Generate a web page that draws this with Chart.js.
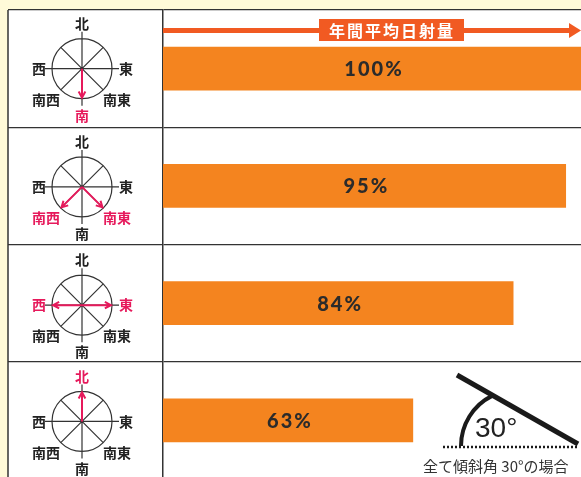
<!DOCTYPE html>
<html>
<head>
<meta charset="utf-8">
<script src="https://cdn.jsdelivr.net/npm/chart.js@4.4.1/dist/chart.umd.min.js"></script>
<style>
  html, body { margin: 0; padding: 0; background: #fffad8; overflow: hidden; }
  #wrap { width: 581px; height: 479px; position: relative; }
</style>
</head>
<body>
<div id="wrap"><canvas id="myChart"></canvas></div>
<script>
// rows: panel orientation, yearly average irradiation relative to south
const categories = ['南', '南東・南西', '東・西', '北'];
const values = [100, 95, 84, 63];
const valueLabels = ['100%', '95%', '84%', '63%'];
const arrowDirs = [['S'], ['SW', 'SE'], ['W', 'E'], ['N']];
const headerText = '年間平均日射量';
const tiltText = '30°';
const tiltNote = '全て傾斜角 30°の場合';

const ORANGE = '#f4841f';
const RED = '#e6195b';
const INK = '#2b2b2b';
const CJK = '"Noto Sans CJK JP", sans-serif';

const dirs = {
  N:  { dx: 0, dy: -1, label: '北', lx: 0, ly: -45 },
  E:  { dx: 1, dy: 0, label: '東', lx: 44, ly: 0 },
  S:  { dx: 0, dy: 1, label: '南', lx: 0, ly: 47 },
  W:  { dx: -1, dy: 0, label: '西', lx: -43, ly: 0 },
  SE: { dx: Math.SQRT1_2, dy: Math.SQRT1_2, label: '南東', lx: 35, ly: 31 },
  SW: { dx: -Math.SQRT1_2, dy: Math.SQRT1_2, label: '南西', lx: -36, ly: 31 }
};

function drawCompass(ctx, cx, cy, active) {
  const r = 30;
  ctx.save();
  ctx.strokeStyle = '#333';
  ctx.lineWidth = 1.2;
  ctx.beginPath();
  ctx.arc(cx, cy, r, 0, Math.PI * 2);
  ctx.moveTo(cx - 37, cy); ctx.lineTo(cx + 37, cy);
  ctx.moveTo(cx, cy - 37); ctx.lineTo(cx, cy + 37);
  const d = r * Math.SQRT1_2;
  ctx.moveTo(cx - d, cy - d); ctx.lineTo(cx + d, cy + d);
  ctx.moveTo(cx + d, cy - d); ctx.lineTo(cx - d, cy + d);
  ctx.stroke();

  // arrows
  ctx.strokeStyle = RED;
  ctx.lineWidth = 2;
  active.forEach(k => {
    const v = dirs[k];
    const ex = cx + v.dx * (r - 1), ey = cy + v.dy * (r - 1);
    ctx.beginPath();
    ctx.moveTo(cx, cy); ctx.lineTo(ex, ey);
    const a = Math.atan2(v.dy, v.dx);
    ctx.moveTo(ex - 7 * Math.cos(a - 0.5), ey - 7 * Math.sin(a - 0.5));
    ctx.lineTo(ex, ey);
    ctx.lineTo(ex - 7 * Math.cos(a + 0.5), ey - 7 * Math.sin(a + 0.5));
    ctx.stroke();
  });

  // direction labels
  ctx.font = 'bold 14px ' + CJK;
  ctx.textAlign = 'center';
  ctx.textBaseline = 'middle';
  Object.keys(dirs).forEach(k => {
    const v = dirs[k];
    ctx.fillStyle = active.includes(k) ? RED : '#222';
    ctx.fillText(v.label, cx + v.lx, cy + v.ly);
  });
  ctx.restore();
}

const tablePlugin = {
  id: 'table',
  beforeDraw(chart) {
    const ctx = chart.ctx;
    ctx.save();
    ctx.fillStyle = '#fff';
    ctx.fillRect(8, 10, chart.width, chart.height);
    ctx.restore();
  },
  afterDatasetsDraw(chart) {
    const ctx = chart.ctx;
    const area = chart.chartArea;
    const y = chart.scales.y;

    // left border of the table
    ctx.save();
    ctx.strokeStyle = '#333';
    ctx.lineWidth = 1.5;
    ctx.beginPath();
    ctx.moveTo(8, area.top); ctx.lineTo(8, chart.height);
    ctx.stroke();
    ctx.restore();

    // compasses
    const shift = [0, 1, 2, 1];
    categories.forEach((c, i) => {
      drawCompass(ctx, 82, y.getPixelForValue(i) + shift[i], arrowDirs[i]);
    });

    // value labels centred on the visible part of each bar
    const meta = chart.getDatasetMeta(0);
    ctx.save();
    ctx.font = '900 20px Lato, sans-serif';
    ctx.letterSpacing = '2px';
    ctx.fillStyle = INK;
    ctx.textAlign = 'center';
    ctx.textBaseline = 'middle';
    meta.data.forEach((bar, i) => {
      const x0 = Math.max(bar.base, area.left);
      const x1 = Math.min(bar.x, area.right);
      ctx.fillText(valueLabels[i], (x0 + x1) / 2 + 2, bar.y + 1);
    });
    ctx.restore();

    // header arrow
    ctx.save();
    ctx.fillStyle = '#f15a22';
    ctx.fillRect(area.left, 28, area.right - area.left - 10, 5);
    ctx.beginPath();
    ctx.moveTo(569, 23); ctx.lineTo(581, 30.5); ctx.lineTo(569, 38);
    ctx.closePath();
    ctx.fill();
    ctx.fillRect(319, 19, 145, 22);
    ctx.fillStyle = '#fff';
    ctx.font = 'bold 16px ' + CJK;
    ctx.letterSpacing = '2px';
    ctx.textAlign = 'center';
    ctx.textBaseline = 'middle';
    ctx.fillText(headerText, 392, 31);
    ctx.restore();

    // tilt angle note
    ctx.save();
    ctx.strokeStyle = '#1a1a1a';
    ctx.lineWidth = 5;
    ctx.lineCap = 'butt';
    ctx.beginPath();
    ctx.moveTo(457, 375); ctx.lineTo(578, 444);
    ctx.stroke();
    ctx.lineWidth = 4;
    ctx.beginPath();
    ctx.arc(517, 446, 56, Math.PI, 4.25, false);
    ctx.stroke();
    ctx.lineWidth = 2.5;
    ctx.setLineDash([2, 2]);
    ctx.beginPath();
    ctx.moveTo(443, 447); ctx.lineTo(578, 447);
    ctx.stroke();
    ctx.setLineDash([]);
    ctx.fillStyle = '#222';
    ctx.font = '28px "Liberation Sans", sans-serif';
    ctx.textAlign = 'left';
    ctx.textBaseline = 'alphabetic';
    ctx.fillText(tiltText, 475, 437);
    ctx.fillStyle = '#333';
    ctx.font = '15px ' + CJK;
    ctx.textBaseline = 'middle';
    ctx.fillText(tiltNote, 423, 466);
    ctx.restore();
  }
};

function initialize() {
  const ctx = document.getElementById('myChart').getContext('2d');
  const myChart = new Chart(ctx, {
    type: 'bar',
    data: {
      labels: categories,
      datasets: [{
        data: values,
        backgroundColor: ORANGE,
        borderWidth: 0,
        barThickness: 43
      }]
    },
    options: {
      indexAxis: 'y',
      responsive: true,
      maintainAspectRatio: false,
      animation: false,
      layout: { padding: { left: 8, top: 10, right: 0, bottom: 0 } },
      plugins: { legend: { display: false }, tooltip: { enabled: false } },
      scales: {
        x: { display: false, min: 10.7, max: 98.2 },
        y: {
          offset: true,
          grid: { color: '#333', lineWidth: 1.3, drawTicks: true, tickLength: 155, offset: true },
          border: { display: true, color: '#333', width: 1.5 },
          ticks: { display: false }
        }
      }
    },
    plugins: [tablePlugin]
  });
}
initialize();
</script>
</body>
</html>
